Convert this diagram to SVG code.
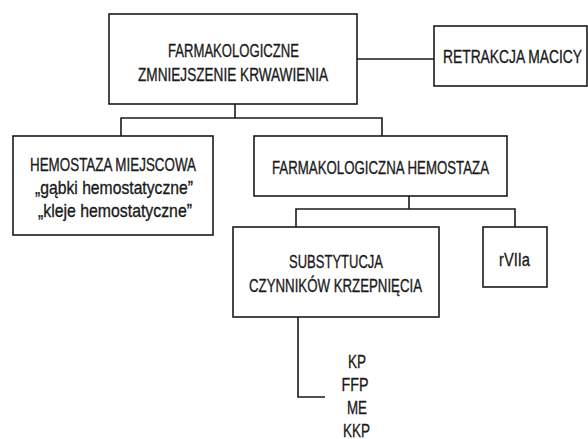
<svg xmlns="http://www.w3.org/2000/svg" width="588" height="439" viewBox="0 0 588 439">
<style>
.box{fill:#fff;stroke:#1a1a1a;stroke-width:1.6}
.ln{fill:none;stroke:#1a1a1a;stroke-width:1.6}
text{font-family:"Liberation Sans",Arial,sans-serif;font-size:19px;fill:#1a1a1a;stroke:#1a1a1a;stroke-width:0.35;text-anchor:middle}
</style>
<rect width="588" height="439" fill="#fff"/>
<g id="connectors">
<path class="ln" d="M357 59H434"/>
<path class="ln" d="M235 104V118M121 136V118H382V136"/>
<path class="ln" d="M409 196V209M296 227V209H515V227"/>
<path class="ln" d="M298 317V397H325"/>
</g>
<g id="n-root">
<rect class="box" x="109" y="14" width="248" height="90"/>
<text x="233.5" y="57" textLength="131" lengthAdjust="spacingAndGlyphs">FARMAKOLOGICZNE</text>
<text x="233" y="81" textLength="190" lengthAdjust="spacingAndGlyphs">ZMNIEJSZENIE KRWAWIENIA</text>
</g>
<g id="n-retrakcja">
<rect class="box" x="434" y="26" width="153" height="60"/>
<text x="512.5" y="63" textLength="139" lengthAdjust="spacingAndGlyphs">RETRAKCJA MACICY</text>
</g>
<g id="n-hemostaza-miejscowa">
<rect class="box" x="13" y="136" width="200" height="99"/>
<text x="113" y="171" textLength="166" lengthAdjust="spacingAndGlyphs">HEMOSTAZA MIEJSCOWA</text>
<text x="114" y="194" textLength="158" lengthAdjust="spacingAndGlyphs">„gąbki hemostatyczne”</text>
<text x="115" y="217" textLength="154" lengthAdjust="spacingAndGlyphs">„kleje hemostatyczne”</text>
</g>
<g id="n-farmakologiczna-hemostaza">
<rect class="box" x="254" y="136" width="253" height="60"/>
<text x="380.5" y="174" textLength="217" lengthAdjust="spacingAndGlyphs">FARMAKOLOGICZNA HEMOSTAZA</text>
</g>
<g id="n-substytucja">
<rect class="box" x="233" y="227" width="206" height="90"/>
<text x="336" y="268" textLength="94" lengthAdjust="spacingAndGlyphs">SUBSTYTUCJA</text>
<text x="335.5" y="292" textLength="173" lengthAdjust="spacingAndGlyphs">CZYNNIKÓW KRZEPNIĘCIA</text>
</g>
<g id="n-rviia">
<rect class="box" x="483" y="227" width="64" height="60"/>
<text x="514.5" y="266" textLength="31" lengthAdjust="spacingAndGlyphs">rVIIa</text>
</g>
<g id="n-list">
<text x="357" y="368" textLength="18" lengthAdjust="spacingAndGlyphs">KP</text>
<text x="355" y="391" textLength="27" lengthAdjust="spacingAndGlyphs">FFP</text>
<text x="357" y="414" textLength="20" lengthAdjust="spacingAndGlyphs">ME</text>
<text x="356.5" y="437" textLength="27" lengthAdjust="spacingAndGlyphs">KKP</text>
</g>
</svg>
